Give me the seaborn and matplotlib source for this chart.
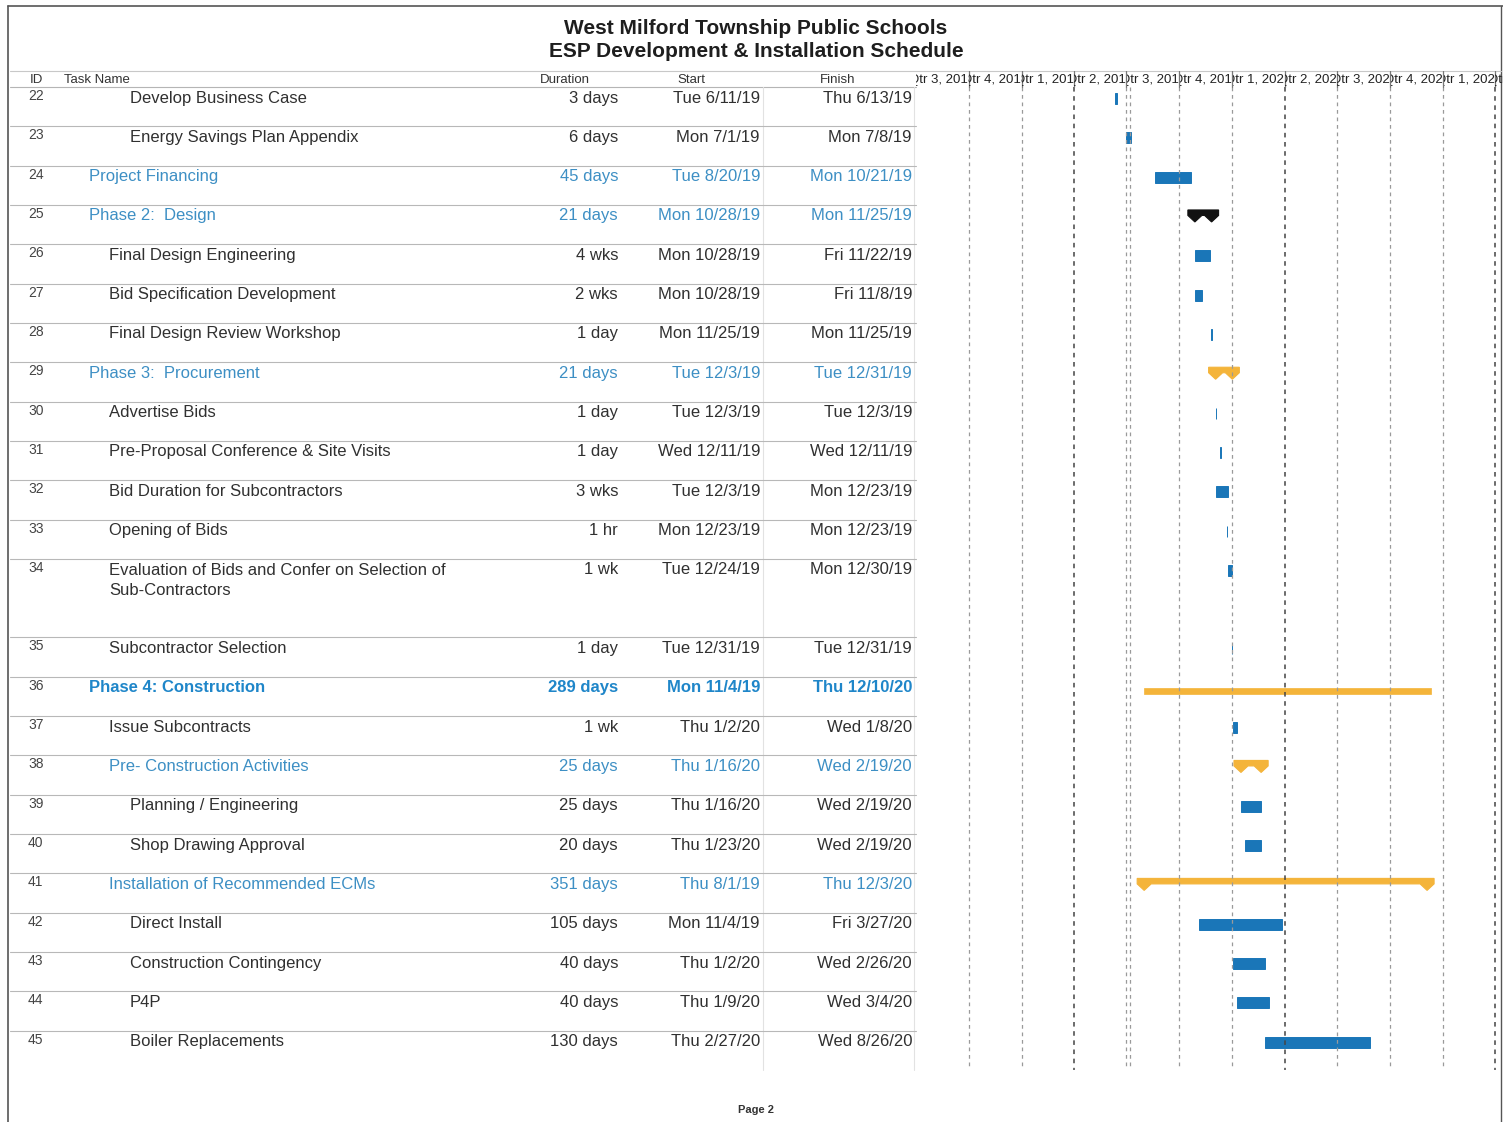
import numpy as np
import pandas as pd
import matplotlib
matplotlib.use("Agg")
import matplotlib.pyplot as plt
import matplotlib.dates as mdates
from matplotlib.patches import Polygon
from matplotlib.transforms import Bbox, TransformedBbox
import seaborn as sns

# ---- schedule data ----
task_ids = list(range(22, 46))
task_names = [
    "Develop Business Case",
    "Energy Savings Plan Appendix",
    "Project Financing",
    "Phase 2:  Design",
    "Final Design Engineering",
    "Bid Specification Development",
    "Final Design Review Workshop",
    "Phase 3:  Procurement",
    "Advertise Bids",
    "Pre-Proposal Conference & Site Visits",
    "Bid Duration for Subcontractors",
    "Opening of Bids",
    "Evaluation of Bids and Confer on Selection of\nSub-Contractors",
    "Subcontractor Selection",
    "Phase 4: Construction",
    "Issue Subcontracts",
    "Pre- Construction Activities",
    "Planning / Engineering",
    "Shop Drawing Approval",
    "Installation of Recommended ECMs",
    "Direct Install",
    "Construction Contingency",
    "P4P",
    "Boiler Replacements",
]
outline_levels = [3, 3, 1, 1, 2, 2, 2, 1, 2, 2, 2, 2, 2, 2, 1, 2, 2, 3, 3, 2, 3, 3, 3, 3]
durations = ["3 days", "6 days", "45 days", "21 days", "4 wks", "2 wks", "1 day", "21 days",
             "1 day", "1 day", "3 wks", "1 hr", "1 wk", "1 day", "289 days", "1 wk", "25 days",
             "25 days", "20 days", "351 days", "105 days", "40 days", "40 days", "130 days"]
start_text = ["Tue 6/11/19", "Mon 7/1/19", "Tue 8/20/19", "Mon 10/28/19", "Mon 10/28/19",
              "Mon 10/28/19", "Mon 11/25/19", "Tue 12/3/19", "Tue 12/3/19", "Wed 12/11/19",
              "Tue 12/3/19", "Mon 12/23/19", "Tue 12/24/19", "Tue 12/31/19", "Mon 11/4/19",
              "Thu 1/2/20", "Thu 1/16/20", "Thu 1/16/20", "Thu 1/23/20", "Thu 8/1/19",
              "Mon 11/4/19", "Thu 1/2/20", "Thu 1/9/20", "Thu 2/27/20"]
finish_text = ["Thu 6/13/19", "Mon 7/8/19", "Mon 10/21/19", "Mon 11/25/19", "Fri 11/22/19",
               "Fri 11/8/19", "Mon 11/25/19", "Tue 12/31/19", "Tue 12/3/19", "Wed 12/11/19",
               "Mon 12/23/19", "Mon 12/23/19", "Mon 12/30/19", "Tue 12/31/19", "Thu 12/10/20",
               "Wed 1/8/20", "Wed 2/19/20", "Wed 2/19/20", "Wed 2/19/20", "Thu 12/3/20",
               "Fri 3/27/20", "Wed 2/26/20", "Wed 3/4/20", "Wed 8/26/20"]
# bar extents as drawn in the gantt part
bar_starts = ["2019-06-11", "2019-07-01", "2019-08-20", "2019-10-28", "2019-10-28", "2019-10-28",
              "2019-11-25", "2019-12-03", "2019-12-03", "2019-12-11", "2019-12-03", "2019-12-23",
              "2019-12-24", "2019-12-31", "2019-08-01", "2020-01-02", "2020-01-16", "2020-01-16",
              "2020-01-23", "2019-08-01", "2019-11-04", "2020-01-02", "2020-01-09", "2020-02-27"]
bar_ends = ["2019-06-13", "2019-07-08", "2019-10-21", "2019-11-25", "2019-11-22", "2019-11-08",
            "2019-11-25", "2019-12-31", "2019-12-03", "2019-12-11", "2019-12-23", "2019-12-23",
            "2019-12-30", "2019-12-31", "2020-12-10", "2020-01-08", "2020-02-19", "2020-02-19",
            "2020-02-19", "2020-12-03", "2020-03-27", "2020-02-26", "2020-03-04", "2020-08-26"]
bar_kinds = ["task", "task", "task", "critical", "task", "task", "task", "summary", "task", "task",
             "task", "task", "task", "task", "flat", "task", "summary", "task", "task", "summary",
             "task", "task", "task", "task"]
blue_rows = [24, 25, 29, 36, 38, 41]
bold_rows = [36]
row_spans = [2 if t == 34 else 1 for t in task_ids]

BLUE_BAR = "#1a76b8"
GOLD = "#f4b43a"
BLUE_TXT = "#3d8fc4"
TXT = "#303030"
GRID = "#9a9a9a"

# page geometry (pixels)
ROW_PX = 39.32
TABLE_TOP = 87
HEAD_TOP = 71
GANTT_X0 = 916
PX_PER_DAY = 0.5762


def main() -> None:
    sns.set_theme(style="white")
    plt.rcParams["font.family"] = ["Liberation Sans", "DejaVu Sans"]

    fig = plt.figure(figsize=(15.03, 11.22), dpi=100)
    page = fig.add_axes([0, 0, 1, 1])
    page.set_xlim(0, 1503)
    page.set_ylim(1122, 0)
    page.set_axis_off()

    tops = np.concatenate([[0], np.cumsum(row_spans)[:-1]])
    n_units = int(np.sum(row_spans))
    bottom_px = TABLE_TOP + n_units * ROW_PX

    # frame and titles
    page.plot([8, 8], [6, 1122], color="#555555", lw=1.2)
    page.plot([8, 1503], [6, 6], color="#555555", lw=1.2)
    page.plot([1501, 1501], [6, 1122], color="#555555", lw=1.0)
    page.text(756, 28, "West Milford Township Public Schools", ha="center", va="center",
              fontsize=15, fontweight="bold", color="#1e1e1e")
    page.text(756, 51, "ESP Development & Installation Schedule", ha="center", va="center",
              fontsize=15, fontweight="bold", color="#1e1e1e")
    page.text(756, 1110, "Page 2", ha="center", va="center", fontsize=8, fontweight="bold",
              color="#333333")

    # table header
    page.plot([10, 1501], [HEAD_TOP, HEAD_TOP], color="#c8c8c8", lw=0.8)
    page.plot([10, GANTT_X0], [TABLE_TOP, TABLE_TOP], color="#b5b5b5", lw=0.8)
    hy = (HEAD_TOP + TABLE_TOP) / 2 + 1
    for label, x in [("ID", 30), ("Task Name", 64)]:
        page.text(x, hy, label, ha="left", va="center", fontsize=9.5, color="#333333")
    for label, x in [("Duration", 565), ("Start", 691), ("Finish", 838)]:
        page.text(x, hy, label, ha="center", va="center", fontsize=9.5, color="#333333")

    # column separators
    for x in [763, 914]:
        page.plot([x, x], [TABLE_TOP, bottom_px], color="#e2e2e2", lw=0.8)

    indent = {1: 89, 2: 109, 3: 130}
    for i, tid in enumerate(task_ids):
        top_px = TABLE_TOP + tops[i] * ROW_PX
        if i > 0:
            page.plot([10, GANTT_X0], [top_px, top_px], color="#b8b8b8", lw=0.8)
        color = BLUE_TXT if tid in blue_rows else TXT
        weight = "bold" if tid in bold_rows else "normal"
        if tid in bold_rows:
            color = "#1f86c9"
        cy = top_px + 11
        page.text(28, cy - 2, str(tid), ha="left", va="center", fontsize=10, color="#444444")
        name_y = cy + (row_spans[i] - 1) * 10.5
        page.text(indent[outline_levels[i]], name_y, task_names[i], ha="left", va="center",
                  fontsize=12, color=color, fontweight=weight, linespacing=1.4)
        page.text(618, cy, durations[i], ha="right", va="center", fontsize=12, color=color,
                  fontweight=weight)
        page.text(760, cy, start_text[i], ha="right", va="center", fontsize=12, color=color,
                  fontweight=weight)
        page.text(912, cy, finish_text[i], ha="right", va="center", fontsize=12, color=color,
                  fontweight=weight)

    # ---- gantt part ----
    head_units = (TABLE_TOP - HEAD_TOP) / ROW_PX
    ax = fig.add_axes([GANTT_X0 / 1503, (1122 - bottom_px) / 1122,
                       (1503 - GANTT_X0) / 1503, (bottom_px - HEAD_TOP) / 1122])
    x_left = mdates.date2num(pd.Timestamp("2018-07-01"))
    x_right = x_left + (1503 - GANTT_X0) / PX_PER_DAY

    starts = mdates.date2num(pd.to_datetime(bar_starts))
    ends = mdates.date2num(pd.to_datetime(bar_ends)) + 1
    spans = np.where(["hr" in d for d in durations], 1 / 24, ends - starts)

    # normal task bars through seaborn, offset by their start dates
    task_mask = np.array([k == "task" for k in bar_kinds])
    task_df = pd.DataFrame({
        "row": tops[task_mask] + 11.5 / ROW_PX,
        "days": spans[task_mask],
    })
    sns.barplot(data=task_df, x="days", y="row", orient="y", native_scale=True,
                width=11 / ROW_PX, color=BLUE_BAR, saturation=1, errorbar=None,
                left=starts[task_mask], edgecolor=BLUE_BAR, linewidth=0.7, ax=ax)

    w = 7 / PX_PER_DAY
    for i, kind in enumerate(bar_kinds):
        top = tops[i]
        s, e = starts[i], ends[i]
        if kind == "flat":
            ax.barh(top + 14 / ROW_PX, e - s, left=s, height=6 / ROW_PX, color=GOLD,
                    edgecolor=GOLD, lw=0.5)
        elif kind in ("summary", "critical"):
            c = "#111111" if kind == "critical" else GOLD
            y0, y1, y2 = top + 5 / ROW_PX, top + 10.5 / ROW_PX, top + 17 / ROW_PX
            pts = [(s - w, y0), (e + w, y0), (e + w, y1), (e, y2), (e - w, y1),
                   (s + w, y1), (s, y2), (s - w, y1)]
            ax.add_patch(Polygon(pts, closed=True, facecolor=c, edgecolor=c, lw=0.8))

    # quarter grid and timescale header (labels clipped to their cell, as printed)
    quarters = pd.date_range("2018-07-01", "2021-07-01", freq="QS")
    qnum = mdates.date2num(quarters)
    for k, q in enumerate(quarters[:-1]):
        if k > 0:
            dark = q.month == 4
            ax.plot([qnum[k], qnum[k]], [0, n_units], color="#444444" if dark else GRID,
                    lw=1.1 if dark else 0.9, ls=(0, (3, 3)))
            ax.plot([qnum[k], qnum[k]], [-head_units, 0], color="#777777", lw=0.9)
        label = f"Qtr {(q.month - 1) // 3 + 1}, {q.year}"
        t = ax.text((qnum[k] + qnum[k + 1]) / 2, -head_units / 2 + 1 / ROW_PX, label,
                    ha="center", va="center", fontsize=9.5, color="#222222", clip_on=True)
        t.set_clip_box(TransformedBbox(
            Bbox.from_extents(qnum[k] + 0.5, -head_units, qnum[k + 1] - 0.5, 0),
            ax.transData))
    status = mdates.date2num(pd.Timestamp("2019-07-08"))
    ax.plot([status, status], [0, n_units], color=GRID, lw=0.9, ls=(0, (3, 3)))

    ax.set_xlim(x_left, x_right)
    ax.set_ylim(n_units, -head_units)
    ax.set_axis_off()

    fig.savefig("out.png", dpi=100)


if __name__ == "__main__":
    main()
